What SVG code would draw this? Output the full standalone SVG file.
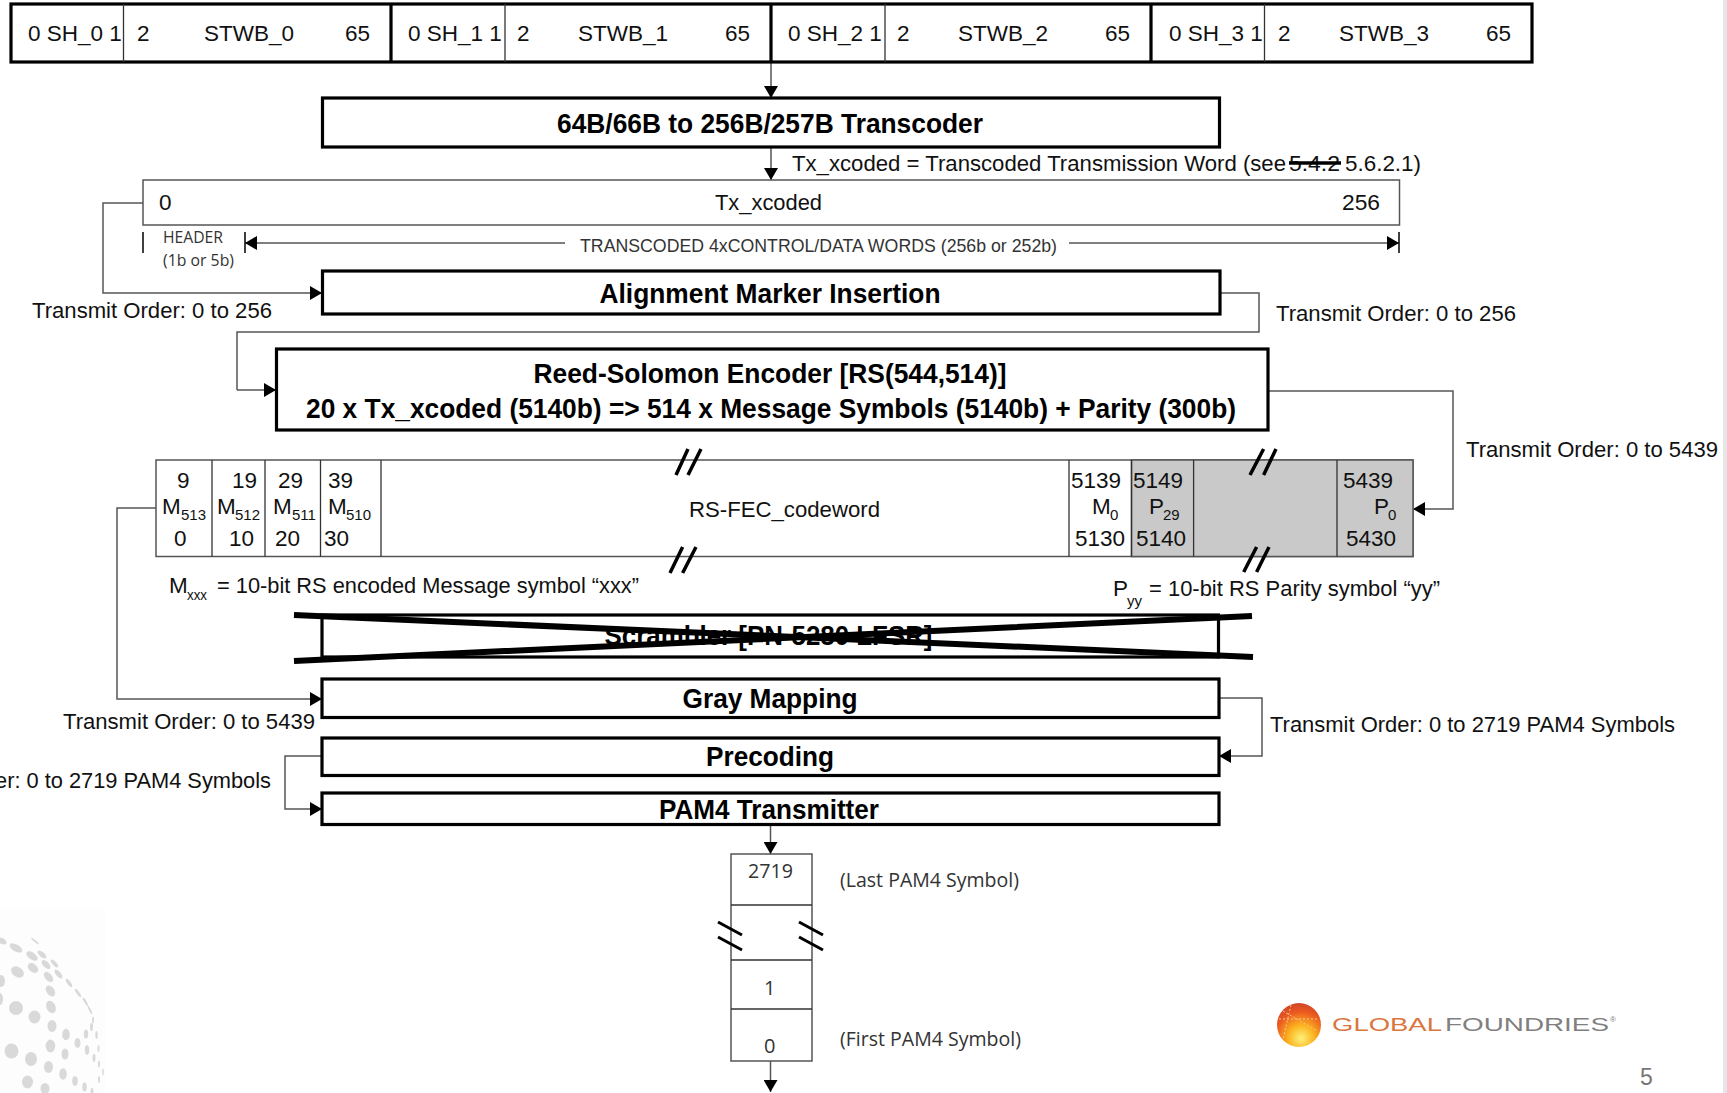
<svg xmlns="http://www.w3.org/2000/svg" width="1727" height="1093" viewBox="0 0 1727 1093">
<style>
text{font-family:"Liberation Sans",Arial,sans-serif;font-size:22.500px;fill:#111}
.b{font-weight:700;font-size:28px;text-anchor:middle;fill:#000}
.s{font-size:15px}
.c{font-family:"Open Sans","Noto Sans",sans-serif;fill:#333}
.box{fill:#fff;stroke:#000;stroke-width:3.200}
.thin{fill:#fff;stroke:#555;stroke-width:1.500}
.div{stroke:#333;stroke-width:1.300;fill:none}
.thick{stroke:#000;stroke-width:3.200;fill:none}
.con{stroke:#555;stroke-width:1.500;fill:none}
.brk{stroke:#000;stroke-width:3.500;fill:none}
.dot{fill:#d9d9d9}
</style>
<defs>
<marker id="a" markerUnits="userSpaceOnUse" markerWidth="13" markerHeight="14" refX="12" refY="7" orient="auto"><path d="M0 0L12 7L0 14Z" fill="#000"/></marker>
</defs>
<rect width="1727" height="1093" fill="#fff"/>
<rect x="1723" y="0" width="4" height="1093" fill="#e6e6e6"/>
<g id="watermark">
<rect x="0" y="907" width="105" height="186" fill="#fdfdfd"/>
<ellipse class="dot" cx="2" cy="941" rx="5" ry="3" transform="rotate(30 2 941)"/>
<ellipse class="dot" cx="16" cy="948" rx="7" ry="3.500" transform="rotate(30 16 948)"/>
<ellipse class="dot" cx="32" cy="956" rx="6.500" ry="3.500" transform="rotate(35 32 956)"/>
<ellipse class="dot" cx="42" cy="954.500" rx="5.500" ry="2.500" transform="rotate(40 42 954.500)"/>
<ellipse class="dot" cx="35" cy="941" rx="5" ry="1" transform="rotate(40 35 941)"/>
<ellipse class="dot" cx="33" cy="968" rx="6" ry="4" transform="rotate(40 33 968)"/>
<ellipse class="dot" cx="17.500" cy="972" rx="7" ry="5" transform="rotate(35 17.500 972)"/>
<ellipse class="dot" cx="1" cy="981" rx="4" ry="6"/>
<ellipse class="dot" cx="46" cy="964.500" rx="5.500" ry="3" transform="rotate(45 46 964.500)"/>
<ellipse class="dot" cx="54.500" cy="963.500" rx="5" ry="2" transform="rotate(48 54.500 963.500)"/>
<ellipse class="dot" cx="48.500" cy="977" rx="6" ry="3.500" transform="rotate(50 48.500 977)"/>
<ellipse class="dot" cx="58.500" cy="974" rx="5.500" ry="2.500" transform="rotate(50 58.500 974)"/>
<ellipse class="dot" cx="50.500" cy="991" rx="6" ry="4" transform="rotate(55 50.500 991)"/>
<ellipse class="dot" cx="69" cy="983" rx="5" ry="1.800" transform="rotate(55 69 983)"/>
<ellipse class="dot" cx="78" cy="993" rx="5" ry="1.500" transform="rotate(55 78 993)"/>
<ellipse class="dot" cx="85.500" cy="1002" rx="5" ry="1.200" transform="rotate(60 85.500 1002)"/>
<ellipse class="dot" cx="90" cy="1010" rx="4.500" ry="1" transform="rotate(65 90 1010)"/>
<ellipse class="dot" cx="51" cy="1007" rx="6.500" ry="4.500" transform="rotate(65 51 1007)"/>
<ellipse class="dot" cx="16" cy="1008" rx="7" ry="7"/>
<ellipse class="dot" cx="34.500" cy="1017" rx="6" ry="6.500"/>
<ellipse class="dot" cx="0" cy="999" rx="3" ry="6"/>
<ellipse class="dot" cx="52" cy="1026" rx="4.500" ry="6"/>
<ellipse class="dot" cx="66" cy="1034.500" rx="3.800" ry="5.800"/>
<ellipse class="dot" cx="86" cy="1034" rx="2.200" ry="4.500"/>
<ellipse class="dot" cx="91.500" cy="1027" rx="1.500" ry="4"/>
<ellipse class="dot" cx="96.500" cy="1035" rx="1.200" ry="4"/>
<ellipse class="dot" cx="93" cy="1020" rx="1" ry="3.500"/>
<ellipse class="dot" cx="77.500" cy="1043" rx="3" ry="5"/>
<ellipse class="dot" cx="87" cy="1050" rx="2.200" ry="4.800"/>
<ellipse class="dot" cx="98.500" cy="1048.500" rx="1" ry="3.500"/>
<ellipse class="dot" cx="94" cy="1058" rx="1.500" ry="4"/>
<ellipse class="dot" cx="99" cy="1064" rx="1" ry="3.500"/>
<ellipse class="dot" cx="103" cy="1072" rx="0.800" ry="3.500"/>
<ellipse class="dot" cx="50.500" cy="1046" rx="4.800" ry="6.500"/>
<ellipse class="dot" cx="65" cy="1054" rx="3.500" ry="5.500"/>
<ellipse class="dot" cx="11.500" cy="1051" rx="7" ry="7.500"/>
<ellipse class="dot" cx="31" cy="1059" rx="6" ry="7"/>
<ellipse class="dot" cx="48.500" cy="1067" rx="4.500" ry="6"/>
<ellipse class="dot" cx="63" cy="1074" rx="3.800" ry="5.800"/>
<ellipse class="dot" cx="75" cy="1081" rx="2.800" ry="4.800"/>
<ellipse class="dot" cx="84.500" cy="1087" rx="2.200" ry="4.500"/>
<ellipse class="dot" cx="99" cy="1079.500" rx="1" ry="3.500"/>
<ellipse class="dot" cx="27.500" cy="1082" rx="5.500" ry="6.500"/>
<ellipse class="dot" cx="45" cy="1088.500" rx="4.500" ry="5.500"/>
<ellipse class="dot" cx="92" cy="1091" rx="1.500" ry="3"/>
</g>
<g id="connectors">
<path class="con" marker-end="url(#a)" d="M771 62V98"/>
<path class="con" marker-end="url(#a)" d="M771 147V180"/>
<path class="con" marker-end="url(#a)" d="M143 203H103V293H322"/>
<path class="con" d="M1220 293H1259V332H237V390"/>
<path class="con" marker-end="url(#a)" d="M237 390H276"/>
<path class="con" marker-end="url(#a)" d="M1268 391H1453V509H1413"/>
<path class="con" marker-end="url(#a)" d="M156 508H117V699H322"/>
<path class="con" marker-end="url(#a)" d="M1219 698H1262V756H1219"/>
<path class="con" marker-end="url(#a)" d="M324 756H285V809H322"/>
<path class="con" marker-end="url(#a)" d="M770.500 825V854"/>
<path class="con" marker-end="url(#a)" d="M770.500 1061V1092"/>
<path class="con" marker-end="url(#a)" d="M565 243H245"/>
<path class="con" marker-end="url(#a)" d="M1069 243H1399"/>
<path d="M143 232V253M245 232V253M1399 232V253" stroke="#000" stroke-width="1.500" fill="none"/>
</g>
<g id="word-bar">
<rect class="box" x="11" y="4" width="1521" height="58"/>
<path class="thick" d="M391 4V62M771 4V62M1151 4V62"/>
<path class="div" d="M123.500 4V62M505 4V62M885 4V62M1264.500 4V62"/>
<text x="28" y="41">0 SH_0 1</text><text x="137" y="41">2</text><text x="204" y="41">STWB_0</text><text x="345" y="41">65</text>
<text x="408" y="41">0 SH_1 1</text><text x="517" y="41">2</text><text x="578" y="41">STWB_1</text><text x="725" y="41">65</text>
<text x="788" y="41">0 SH_2 1</text><text x="897" y="41">2</text><text x="958" y="41">STWB_2</text><text x="1105" y="41">65</text>
<text x="1169" y="41">0 SH_3 1</text><text x="1278" y="41">2</text><text x="1339" y="41">STWB_3</text><text x="1486" y="41">65</text>
</g>
<g id="transcoder">
<rect class="box" x="322.500" y="98" width="897" height="49"/>
<text class="b" x="770" y="133" textLength="426" lengthAdjust="spacingAndGlyphs">64B/66B to 256B/257B Transcoder</text>
</g>
<g id="tx-note">
<text x="792" y="171" textLength="494" lengthAdjust="spacingAndGlyphs">Tx_xcoded = Transcoded Transmission Word (see</text>
<text x="1289" y="171" textLength="51" lengthAdjust="spacingAndGlyphs">5.4.2</text>
<path d="M1289 163H1341" stroke="#000" stroke-width="3.500"/>
<text x="1345" y="171" textLength="76" lengthAdjust="spacingAndGlyphs">5.6.2.1)</text>
</g>
<g id="tx-xcoded">
<rect class="thin" x="143" y="180" width="1256.500" height="45"/>
<text x="159" y="210">0</text>
<text x="715" y="210" textLength="107" lengthAdjust="spacingAndGlyphs">Tx_xcoded</text>
<text x="1342" y="210" textLength="38" lengthAdjust="spacingAndGlyphs">256</text>
</g>
<g id="tx-fields">
<text class="c" x="163" y="243" style="font-size:17px" textLength="60" lengthAdjust="spacingAndGlyphs">HEADER</text>
<text class="c" x="163" y="266" style="font-size:17px" textLength="71" lengthAdjust="spacingAndGlyphs">(1b or 5b)</text>
<text x="580" y="252" style="font-size:19px;fill:#333" textLength="477" lengthAdjust="spacingAndGlyphs">TRANSCODED  4xCONTROL/DATA  WORDS (256b or 252b)</text>
</g>
<g id="alignment">
<rect class="box" x="322.500" y="271" width="897.500" height="43"/>
<text class="b" x="770" y="303" textLength="341" lengthAdjust="spacingAndGlyphs">Alignment Marker Insertion</text>
</g>
<text x="32" y="318" textLength="240" lengthAdjust="spacingAndGlyphs">Transmit Order: 0 to 256</text>
<text x="1276" y="321" textLength="240" lengthAdjust="spacingAndGlyphs">Transmit Order: 0 to 256</text>
<g id="rs-encoder">
<rect class="box" x="276.500" y="349" width="991.500" height="81"/>
<text class="b" x="770" y="383" textLength="473" lengthAdjust="spacingAndGlyphs">Reed-Solomon Encoder [RS(544,514)]</text>
<text class="b" x="771" y="418" textLength="930" lengthAdjust="spacingAndGlyphs">20 x Tx_xcoded (5140b) =&gt; 514 x Message Symbols (5140b) + Parity (300b)</text>
</g>
<text x="1466" y="457" textLength="252" lengthAdjust="spacingAndGlyphs">Transmit Order: 0 to 5439</text>
<g id="codeword">
<rect class="thin" x="156" y="460" width="1257" height="96.500"/>
<rect x="1131.500" y="460" width="281.500" height="96.500" fill="#c9c9c9" stroke="#555" stroke-width="1.500"/>
<path class="div" d="M212 460V556.500M265 460V556.500M320.500 460V556.500M381 460V556.500M1069 460V556.500M1131.500 460V556.500M1193.600 460V556.500M1337 460V556.500"/>
<text x="177" y="488">9</text><text x="232" y="488">19</text><text x="278" y="488">29</text><text x="328" y="488">39</text>
<text x="162" y="514">M</text><text class="s" x="181" y="520">513</text>
<text x="217" y="514">M</text><text class="s" x="235" y="520">512</text>
<text x="273" y="514">M</text><text class="s" x="292" y="520">511</text>
<text x="328" y="514">M</text><text class="s" x="346" y="520">510</text>
<text x="174" y="546">0</text><text x="229" y="546">10</text><text x="275" y="546">20</text><text x="324" y="546">30</text>
<text x="689" y="517" textLength="191" lengthAdjust="spacingAndGlyphs">RS-FEC_codeword</text>
<text x="1071" y="488">5139</text><text x="1092" y="514">M</text><text class="s" x="1110" y="520">0</text><text x="1075" y="546">5130</text>
<text x="1133" y="488">5149</text><text x="1149" y="514">P</text><text class="s" x="1163" y="520">29</text><text x="1136" y="546">5140</text>
<text x="1343" y="488">5439</text><text x="1374" y="514">P</text><text class="s" x="1388" y="520">0</text><text x="1346" y="546">5430</text>
<path class="brk" d="M676 475L688 449M688 475L701 449M670 573L682.600 547M682.600 573L696 547M1250 475L1263.600 449M1263.600 475L1276 449M1243.700 572L1256.600 547M1256.600 572L1269 547"/>
</g>
<g id="legend">
<text x="169" y="593">M</text><text class="s" x="187" y="600" textLength="20" lengthAdjust="spacingAndGlyphs">xxx</text>
<text x="217" y="593" textLength="422" lengthAdjust="spacingAndGlyphs">= 10-bit RS encoded Message symbol “xxx”</text>
<text x="1113" y="596">P</text><text class="s" x="1127" y="606">yy</text>
<text x="1149" y="596" textLength="291" lengthAdjust="spacingAndGlyphs">= 10-bit RS Parity symbol “yy”</text>
</g>
<g id="scrambler">
<rect class="box" x="322" y="615" width="896.500" height="42"/>
<text class="b" x="768.500" y="645" textLength="328" lengthAdjust="spacingAndGlyphs">Scrambler [PN-5280 LFSR]</text>
<path d="M294 615L1253 657M294 661L1252 616" stroke="#000" stroke-width="6" fill="none"/>
</g>
<g id="gray-mapping">
<rect class="box" x="322" y="679" width="897" height="38.500"/>
<text class="b" x="770" y="708" textLength="175" lengthAdjust="spacingAndGlyphs">Gray Mapping</text>
</g>
<text x="63" y="729" textLength="252" lengthAdjust="spacingAndGlyphs">Transmit Order: 0 to 5439</text>
<text x="1270" y="732" textLength="405" lengthAdjust="spacingAndGlyphs">Transmit Order: 0 to 2719 PAM4 Symbols</text>
<g id="precoding">
<rect class="box" x="322" y="738" width="897" height="37.500"/>
<text class="b" x="770" y="766" textLength="128" lengthAdjust="spacingAndGlyphs">Precoding</text>
</g>
<text x="271" y="788" text-anchor="end" textLength="276" lengthAdjust="spacingAndGlyphs">er: 0 to 2719 PAM4 Symbols</text>
<g id="pam4-tx">
<rect class="box" x="322" y="793" width="897" height="31.500"/>
<text class="b" x="769" y="819" textLength="220" lengthAdjust="spacingAndGlyphs">PAM4 Transmitter</text>
</g>
<g id="symbol-stack">
<rect class="thin" x="731" y="854" width="81" height="207"/>
<path class="div" d="M731 905H812M731 960H812M731 1009H812"/>
<path stroke="#000" stroke-width="3" fill="none" d="M718 922L742 935M718 937L742 950M799 922L823 935M799 937L823 950"/>
<text class="c" x="748" y="878" style="font-size:20px" textLength="45" lengthAdjust="spacingAndGlyphs">2719</text>
<text class="c" x="764" y="995" style="font-size:20px">1</text>
<text class="c" x="764" y="1053" style="font-size:20px">0</text>
<text class="c" x="840" y="887" style="font-size:20px" textLength="179" lengthAdjust="spacingAndGlyphs">(Last PAM4 Symbol)</text>
<text class="c" x="840" y="1046" style="font-size:20px" textLength="181" lengthAdjust="spacingAndGlyphs">(First PAM4 Symbol)</text>
</g>
<g id="logo">
<defs><radialGradient id="g" cx="0.55" cy="0.8" r="0.85"><stop offset="0" stop-color="#fff27a"/><stop offset="0.35" stop-color="#fbb31f"/><stop offset="0.7" stop-color="#ec5a20"/><stop offset="1" stop-color="#c9402a"/></radialGradient></defs>
<circle cx="1299" cy="1025" r="22" fill="url(#g)"/>
<path d="M1283 1011L1317 1031M1291 1005L1283 1039M1279 1019H1319" stroke="#fbc98a" stroke-width="1" stroke-dasharray="2 2" fill="none"/>
<text x="1332" y="1031" style="font-size:19px;fill:#d9773f" textLength="110" lengthAdjust="spacingAndGlyphs">GLOBAL</text>
<text x="1445" y="1031" style="font-size:19px;fill:#808080" textLength="164" lengthAdjust="spacingAndGlyphs">FOUNDRIES</text>
<text x="1610" y="1022" style="font-size:8px;fill:#808080">®</text>
</g>
<text id="page" x="1640" y="1085" style="font-size:23px;fill:#777">5</text>
</svg>
